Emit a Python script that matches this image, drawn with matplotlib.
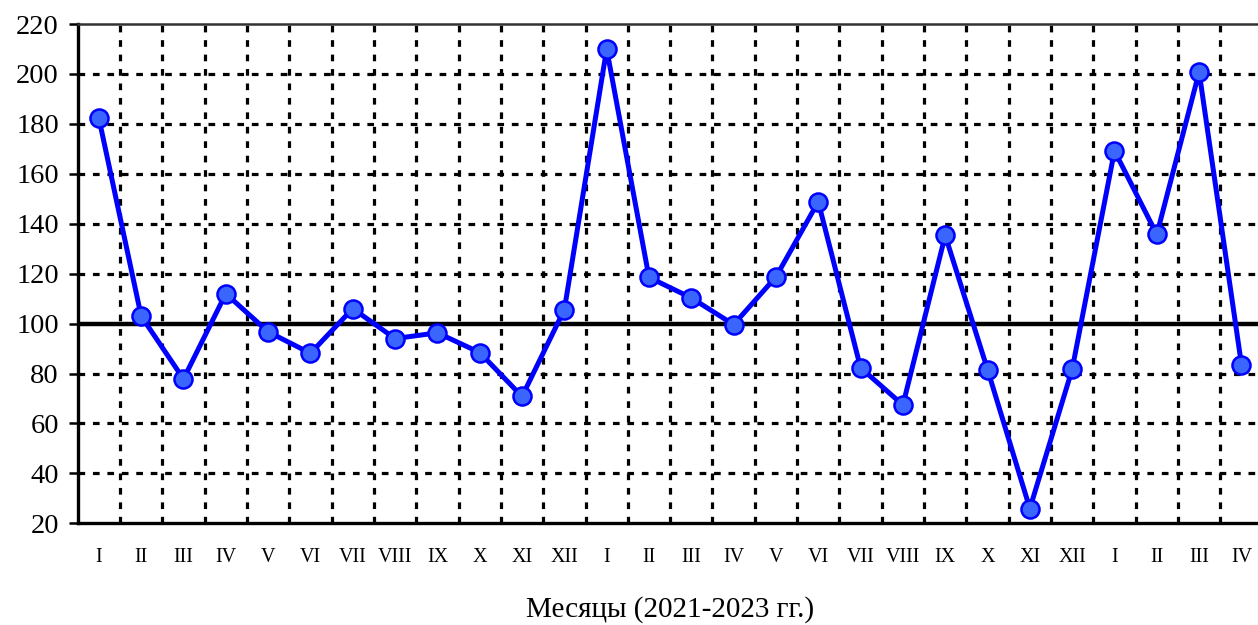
import matplotlib
matplotlib.use("Agg")
import matplotlib.pyplot as plt
import numpy as np

months = ["I", "II", "III", "IV", "V", "VI", "VII", "VIII", "IX", "X", "XI", "XII",
          "I", "II", "III", "IV", "V", "VI", "VII", "VIII", "IX", "X", "XI", "XII",
          "I", "II", "III", "IV"]
values = [182.3, 103.0, 77.8, 112.0, 96.7, 88.1, 106.0, 94.0, 96.3, 88.4, 70.8, 105.6,
          210.0, 118.5, 110.3, 99.6, 118.7, 148.8, 82.3, 67.4, 135.3, 81.6, 25.9, 81.7,
          169.2, 135.7, 200.8, 83.6]
y_ticks = [20, 40, 60, 80, 100, 120, 140, 160, 180, 200, 220]
x_label = "Месяцы (2021-2023 гг.)"
ref_level = 100

plt.rcParams['font.family'] = ['Liberation Serif', 'DejaVu Serif']
plt.rcParams['lines.scale_dashes'] = False

W, H = 1258, 625
fig = plt.figure(figsize=(W / 100, H / 100), dpi=100)
left, right, top, bottom = 77.7, 1262.6, 24.0, 523.3
ax = fig.add_axes([left / W, 1 - bottom / H, (right - left) / W, (bottom - top) / H])

n = len(values)
x = np.arange(n)
ax.set_xlim(-0.5, n - 0.5)
ax.set_ylim(y_ticks[0], y_ticks[-1])

# grid
for yv in y_ticks[1:-1]:
    if yv == ref_level:
        continue
    ax.axhline(yv, color='black', lw=2.3, linestyle=(0, (4.8, 5.6)), zorder=1)
for xb in np.arange(0.5, n - 0.5, 1.0):
    ax.axvline(xb, color='black', lw=2.3, linestyle=(0, (4.8, 5.6)), zorder=1)
ax.axhline(ref_level, color='black', lw=3.2, zorder=2)

ax.plot(x, values, color='#0000FF', lw=3.6, marker='o', markersize=13,
        markerfacecolor='#3A66FF', markeredgecolor='#0000FF', markeredgewidth=1.8,
        zorder=3, clip_on=False)

ax.set_yticks(y_ticks)
ax.set_yticklabels([str(v) for v in y_ticks], fontsize=20.5)
ax.tick_params(axis='y', direction='out', length=6.5, width=1.8, pad=7)
ax.set_xticks(x)
ax.set_xticklabels(months, fontsize=14.5)
ax.tick_params(axis='x', length=0, pad=18)

for s in ['left', 'bottom']:
    ax.spines[s].set_linewidth(2.4)
ax.spines['top'].set_linewidth(1.8)
ax.spines['top'].set_color('#333333')
ax.spines['right'].set_visible(False)

fig.text((left + right) / 2 / W, 1 - 610 / H, x_label, ha='center', va='center', fontsize=21)

fig.savefig("out.png", dpi=100)
